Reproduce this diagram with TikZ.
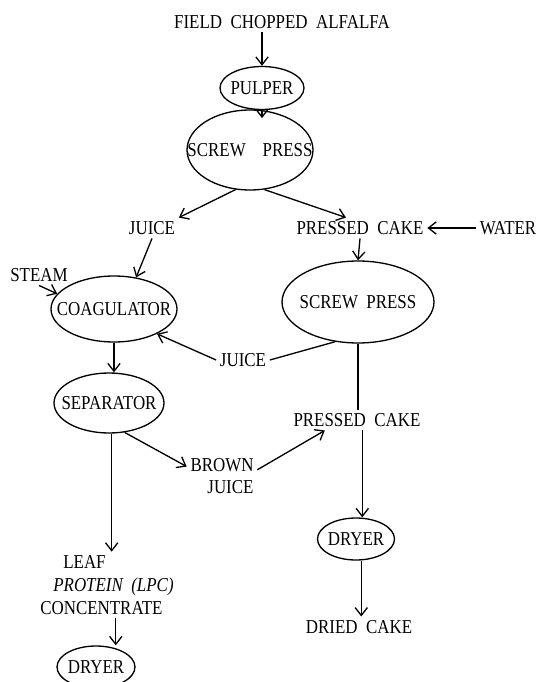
\documentclass[tikz,border=0pt]{standalone}
\usepackage{fontspec}
\setmainfont[FakeStretch=0.86,WordSpace=2]{Liberation Serif}
\usepackage{tikz}
\usetikzlibrary{arrows.meta,shapes.geometric,positioning}
\tikzset{vessel/.style={draw,ellipse,inner sep=0pt,line width=0.75pt},
    stream/.style={inner sep=2pt,align=center},
    flowline/.style={line width=0.75pt}}
\newcommand{\inside}[1]{\makebox[0pt]{#1}}

\begin{document}
\begin{tikzpicture}[x=0.02cm,y=-0.02cm,font=\fontsize{11.2}{13}\selectfont,
    >={Straight Barb[length=4.5pt,width=7pt]}]

\useasboundingbox (0,0) rectangle (538,682);

\node (field)    [stream] at (282, 22) {FIELD CHOPPED ALFALFA};
\node (pulper)   [vessel,minimum width=1.68cm,minimum height=0.86cm] at (262, 88) {\inside{PULPER}};
\node (press 1)  [vessel,minimum width=2.52cm,minimum height=1.6cm]  at (250,150) {\inside{SCREW\ \ PRESS}};
\node (juice 1)  [stream] at (152,228) {JUICE};
\node (cake 1)   [stream] at (360,228) {PRESSED CAKE};
\node (water)    [stream] at (508,228) {WATER};
\node (steam)    [stream] at ( 39,275) {STEAM};
\node (coag)     [vessel,minimum width=2.52cm,minimum height=1.32cm] at (114,309) {\inside{COAGULATOR}};
\node (press 2)  [vessel,minimum width=3.04cm,minimum height=1.64cm] at (358,302) {\inside{SCREW PRESS}};
\node (juice 2)  [stream] at (243,360) {JUICE};
\node (sep)      [vessel,minimum width=2.2cm,minimum height=1.2cm]   at (109,403) {\inside{SEPARATOR}};
\node (cake 2)   [stream] at (357,420) {PRESSED CAKE};
\node (brown)    [stream,align=right] at (222,476) {BROWN\\JUICE};
\node (dryer 1)  [vessel,minimum width=1.54cm,minimum height=0.84cm] at (356,539) {\inside{DRYER}};
\node (leaf)     [stream,align=left] at (107,585)
    {\hspace*{0.46cm}LEAF\\\hspace*{0.26cm}\textit{PROTEIN (LPC)}\\CONCENTRATE};
\node (dried)    [stream] at (359,627) {DRIED CAKE};
\node (dryer 2)  [vessel,minimum width=1.56cm,minimum height=0.84cm] at ( 96,667) {\inside{DRYER}};

\draw [flowline,->] (field.south -| pulper.north) -- (pulper.north);
\draw [flowline,->] (pulper.south) -- ([yshift=-5pt]pulper.south |- press 1.north);
\draw [flowline,->] (press 1.-110) -- (juice 1.north east);
\draw [flowline,->] (press 1.-70) -- ([xshift=-8pt]cake 1.north);
\draw [flowline,->] (water.west) -- (cake 1.east);
\draw [flowline,->] (cake 1.south) -- (press 2.north);
\draw [flowline,->] (juice 1.south) -- (coag.55);
\draw [flowline,->] (steam.south) -- (coag.165);
\draw [flowline]    (press 2.-120) -- (juice 2.east);
\draw [flowline,->] (juice 2.west) -- (coag.-30);
\draw [flowline,->] (coag.south) -- (coag.south |- sep.north);
\draw [flowline,->] (sep.-62) -- (brown.165);
\draw [flowline,->] (brown.10) -- ([xshift=20pt]cake 2.south west);
\draw [flowline]    (press 2.south) -- (press 2.south |- cake 2.north);
\draw [flowline,->] (sep.-85) -- (sep.-85 |- leaf.north);
\draw [flowline,->] ([xshift=5pt]leaf.south) -- ([xshift=5pt]leaf.south |- dryer 2.north);
\draw [flowline,->] ([xshift=3pt]cake 2.south) -- ([xshift=3pt]cake 2.south |- dryer 1.north);
\draw [flowline,->] ([xshift=3pt]dryer 1.south) -- ([xshift=3pt]dryer 1.south |- dried.north);

\end{tikzpicture}
\end{document}
